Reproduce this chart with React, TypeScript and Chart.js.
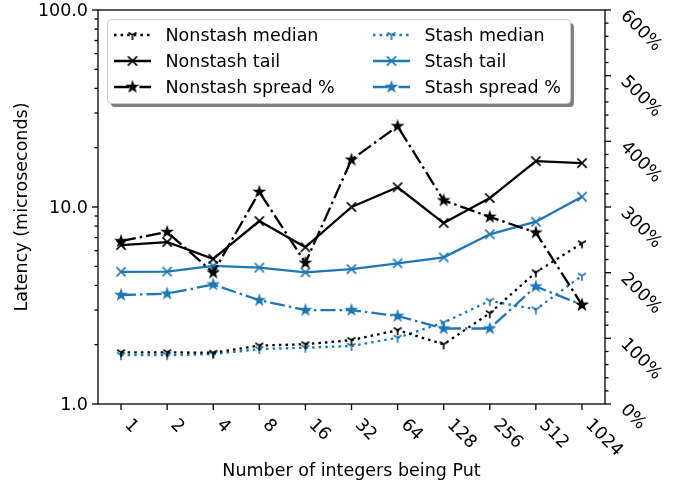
import React, { useEffect, useRef } from 'react';
import { Chart, registerables } from 'chart.js';

Chart.register(...registerables);

const categories = ['1', '2', '4', '8', '16', '32', '64', '128', '256', '512', '1024'];
const nonstashMedian = [1.83, 1.83, 1.82, 1.98, 2.01, 2.11, 2.37, 2.01, 2.89, 4.66, 6.54];
const nonstashTail = [6.41, 6.64, 5.45, 8.49, 6.25, 10.0, 12.6, 8.29, 11.1, 17.1, 16.7];
const stashMedian = [1.77, 1.77, 1.79, 1.9, 1.93, 1.97, 2.17, 2.59, 3.34, 3.02, 4.48];
const stashTail = [4.69, 4.7, 5.02, 4.92, 4.66, 4.84, 5.18, 5.55, 7.27, 8.42, 11.28];
const nonstashSpread = [248, 262, 200, 323, 215, 372, 423, 310, 285, 261, 151];
const stashSpread = [166, 168, 182, 158, 143, 143, 134, 115, 115, 179, 151];
const leftTicks = [1, 10, 100];
const rightTicks = [0, 100, 200, 300, 400, 500, 600];

const BLACK = '#000000';
const BLUE = '#1f77b4';
const FS = 17.5;
const FONT = `${FS}px "DejaVu Sans"`;
const LW = 2.3;
const DOT = [2.5, 4.1];
const DASHDOT = [15, 4, 2.5, 4];

function makeMarker(kind: 'tri' | 'x' | 'star', color: string): HTMLCanvasElement {
  const c = document.createElement('canvas');
  c.width = 18;
  c.height = 18;
  const g = c.getContext('2d')!;
  g.translate(9, 9);
  g.strokeStyle = color;
  g.fillStyle = color;
  g.lineWidth = 1.6;
  g.lineCap = 'butt';
  if (kind === 'tri') {
    const r = 5;
    g.beginPath();
    g.moveTo(0, 0); g.lineTo(0, r);
    g.moveTo(0, 0); g.lineTo(0.8 * r, -0.5 * r);
    g.moveTo(0, 0); g.lineTo(-0.8 * r, -0.5 * r);
    g.stroke();
  } else if (kind === 'x') {
    const r = 4.6;
    g.beginPath();
    g.moveTo(-r, -r); g.lineTo(r, r);
    g.moveTo(-r, r); g.lineTo(r, -r);
    g.stroke();
  } else {
    const R = 5;
    const ri = R * 0.381966;
    g.beginPath();
    for (let k = 0; k < 10; k++) {
      const rad = k % 2 === 0 ? R : ri;
      const ang = -Math.PI / 2 + (k * Math.PI) / 5;
      const px = rad * Math.cos(ang);
      const py = rad * Math.sin(ang);
      if (k === 0) g.moveTo(px, py); else g.lineTo(px, py);
    }
    g.closePath();
    g.lineJoin = 'miter';
    g.lineWidth = 1.4;
    g.fill();
    g.stroke();
  }
  return c;
}

export default function App() {
  const ref = useRef<HTMLCanvasElement | null>(null);

  useEffect(() => {
    document.body.style.margin = '0';
    const canvas = ref.current;
    if (!canvas) return;

    const mk = {
      triB: makeMarker('tri', BLACK),
      xB: makeMarker('x', BLACK),
      starB: makeMarker('star', BLACK),
      triU: makeMarker('tri', BLUE),
      xU: makeMarker('x', BLUE),
      starU: makeMarker('star', BLUE),
    };

    const entries = [
      { label: 'Nonstash median', color: BLACK, dash: DOT, marker: mk.triB },
      { label: 'Nonstash tail', color: BLACK, dash: [] as number[], marker: mk.xB },
      { label: 'Nonstash spread %', color: BLACK, dash: DASHDOT, marker: mk.starB },
      { label: 'Stash median', color: BLUE, dash: DOT, marker: mk.triU },
      { label: 'Stash tail', color: BLUE, dash: [] as number[], marker: mk.xU },
      { label: 'Stash spread %', color: BLUE, dash: DASHDOT, marker: mk.starU },
    ];

    const common = {
      borderWidth: LW,
      fill: false,
      tension: 0,
      pointRadius: 5,
      pointHoverRadius: 5,
      borderJoinStyle: 'round' as const,
    };

    const axesPlugin = {
      id: 'mplAxes',
      afterDraw(chart: any) {
        const { ctx, chartArea: a, scales } = chart;
        const xs = scales.x;
        const ys = scales.y;
        const y2s = scales.y2;
        ctx.save();
        ctx.strokeStyle = BLACK;
        ctx.fillStyle = BLACK;
        ctx.lineWidth = 1.3;
        ctx.setLineDash([]);
        const line = (x1: number, y1: number, x2: number, y2: number) => {
          ctx.beginPath();
          ctx.moveTo(x1, y1);
          ctx.lineTo(x2, y2);
          ctx.stroke();
        };
        // spines
        ctx.strokeRect(a.left, a.top, a.right - a.left, a.bottom - a.top);
        ctx.font = FONT;

        // x ticks and labels
        categories.forEach((c, i) => {
          const px = xs.getPixelForValue(i);
          line(px, a.bottom, px, a.bottom + 6);
          const w = ctx.measureText(c).width;
          const h = FS * 1.164;
          const S = (w + h) * Math.SQRT1_2;
          const cx = px + S / 2;
          const cy = a.bottom + 10 + S / 2;
          ctx.save();
          ctx.translate(cx, cy);
          ctx.rotate(Math.PI / 4);
          ctx.textAlign = 'left';
          ctx.textBaseline = 'alphabetic';
          ctx.fillText(c, -w / 2, 0.346 * FS);
          ctx.restore();
        });

        // left log axis
        for (let d = 1; d < 100; d *= 10) {
          for (let k = 2; k <= 9; k++) {
            const py = ys.getPixelForValue(d * k);
            line(a.left, py, a.left - 3.5, py);
          }
        }
        ctx.textAlign = 'right';
        ctx.textBaseline = 'middle';
        leftTicks.forEach((v) => {
          const py = ys.getPixelForValue(v);
          line(a.left, py, a.left - 6, py);
          ctx.fillText(v.toFixed(1), a.left - 10, py + 1);
        });

        // right linear axis
        for (let v = 0; v <= 600; v += 20) {
          if (v % 100 === 0) continue;
          const py = y2s.getPixelForValue(v);
          line(a.right, py, a.right + 3.5, py);
        }
        rightTicks.forEach((v) => {
          const py = y2s.getPixelForValue(v);
          line(a.right, py, a.right + 6, py);
          ctx.save();
          ctx.translate(a.right + 15, py + 6.5);
          ctx.rotate(Math.PI / 4);
          ctx.textAlign = 'left';
          ctx.textBaseline = 'alphabetic';
          ctx.fillText(`${v}%`, 0, 0);
          ctx.restore();
        });

        // axis titles
        ctx.textAlign = 'center';
        ctx.textBaseline = 'middle';
        ctx.fillText('Number of integers being Put', (a.left + a.right) / 2, 471);
        ctx.save();
        ctx.translate(22, (a.top + a.bottom) / 2);
        ctx.rotate(-Math.PI / 2);
        ctx.fillText('Latency (microseconds)', 0, 0);
        ctx.restore();

        // legend
        const bx = a.left + 9.5;
        const by = a.top + 9.5;
        const bw = 463;
        const bh = 84;
        const rr = 4;
        const rrect = (x0: number, y0: number, w0: number, h0: number) => {
          ctx.beginPath();
          ctx.moveTo(x0 + rr, y0);
          ctx.lineTo(x0 + w0 - rr, y0);
          ctx.arcTo(x0 + w0, y0, x0 + w0, y0 + rr, rr);
          ctx.lineTo(x0 + w0, y0 + h0 - rr);
          ctx.arcTo(x0 + w0, y0 + h0, x0 + w0 - rr, y0 + h0, rr);
          ctx.lineTo(x0 + rr, y0 + h0);
          ctx.arcTo(x0, y0 + h0, x0, y0 + h0 - rr, rr);
          ctx.lineTo(x0, y0 + rr);
          ctx.arcTo(x0, y0, x0 + rr, y0, rr);
          ctx.closePath();
        };
        ctx.fillStyle = 'rgba(0,0,0,0.5)';
        rrect(bx + 3.4, by + 3.4, bw, bh);
        ctx.fill();
        ctx.fillStyle = '#ffffff';
        rrect(bx, by, bw, bh);
        ctx.fill();
        ctx.strokeStyle = '#cccccc';
        ctx.lineWidth = 1;
        ctx.stroke();

        const rowsY = [by + 15.5, by + 41.5, by + 67.5];
        const colsX = [bx + 6.5, bx + 265.5];
        entries.forEach((e, i) => {
          const col = Math.floor(i / 3);
          const row = i % 3;
          const hx = colsX[col];
          const hy = rowsY[row];
          ctx.strokeStyle = e.color;
          ctx.lineWidth = LW;
          ctx.setLineDash(e.dash);
          ctx.lineCap = 'butt';
          line(hx, hy, hx + 37, hy);
          ctx.setLineDash([]);
          ctx.drawImage(e.marker, hx + 18.5 - e.marker.width / 2, hy - e.marker.height / 2);
          ctx.fillStyle = BLACK;
          ctx.textAlign = 'left';
          ctx.textBaseline = 'middle';
          ctx.fillText(e.label, hx + 51.5, hy + 1);
        });
        ctx.restore();
      },
    };

    const chart = new Chart(canvas, {
      type: 'line',
      data: {
        labels: categories,
        datasets: [
          { ...common, label: 'Nonstash median', data: nonstashMedian, yAxisID: 'y', borderColor: BLACK, backgroundColor: BLACK, borderDash: DOT, pointStyle: mk.triB as any, order: 1 },
          { ...common, label: 'Nonstash tail', data: nonstashTail, yAxisID: 'y', borderColor: BLACK, backgroundColor: BLACK, pointStyle: mk.xB as any, order: 1 },
          { ...common, label: 'Stash median', data: stashMedian, yAxisID: 'y', borderColor: BLUE, backgroundColor: BLUE, borderDash: DOT, pointStyle: mk.triU as any, order: 1 },
          { ...common, label: 'Stash tail', data: stashTail, yAxisID: 'y', borderColor: BLUE, backgroundColor: BLUE, pointStyle: mk.xU as any, order: 1 },
          { ...common, label: 'Nonstash spread %', data: nonstashSpread, yAxisID: 'y2', borderColor: BLACK, backgroundColor: BLACK, borderDash: DASHDOT, pointStyle: mk.starB as any, order: 0 },
          { ...common, label: 'Stash spread %', data: stashSpread, yAxisID: 'y2', borderColor: BLUE, backgroundColor: BLUE, borderDash: DASHDOT, pointStyle: mk.starU as any, order: 0 },
        ],
      },
      options: {
        animation: false,
        responsive: false,
        devicePixelRatio: 1,
        events: [],
        layout: { padding: { left: 98, right: 83, top: 10, bottom: 83 } },
        plugins: { legend: { display: false }, tooltip: { enabled: false } },
        scales: {
          x: { type: 'category', offset: true, display: false },
          y: { type: 'logarithmic', min: 1, max: 100, display: false },
          y2: { type: 'linear', min: 0, max: 600, display: false, position: 'right' },
        },
      },
      plugins: [axesPlugin],
    });

    return () => chart.destroy();
  }, []);

  return <canvas ref={ref} width={688} height={487} style={{ display: 'block', width: 688, height: 487 }} />;
}
